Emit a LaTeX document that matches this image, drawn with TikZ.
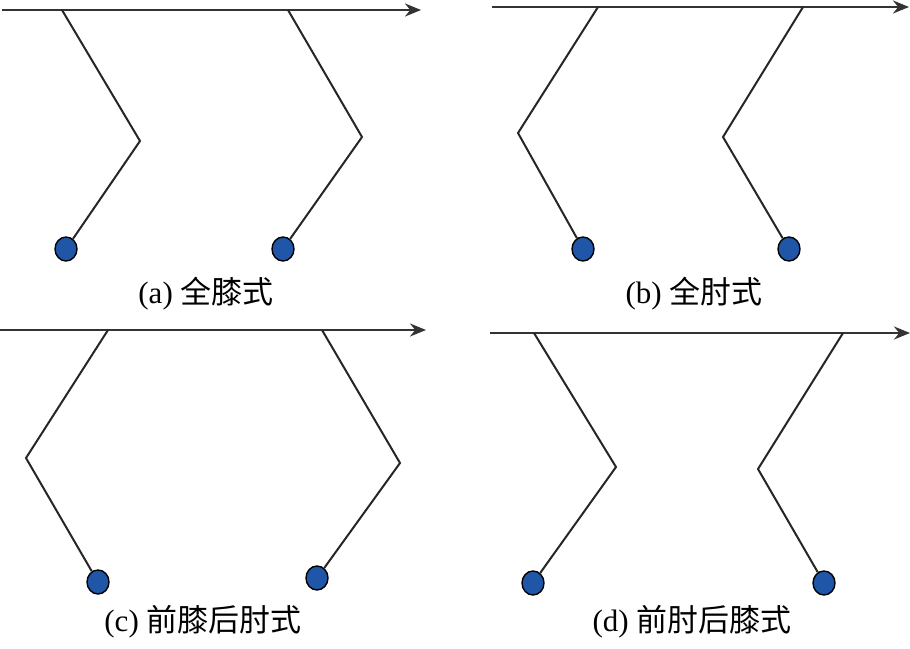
\documentclass[tikz,border=0pt]{standalone}
\usepackage{fontspec}
\setmainfont{Liberation Serif}
\newfontfamily\cjk{Noto Sans CJK SC}
\usetikzlibrary{shapes.geometric,arrows.meta}
\definecolor{footblue}{RGB}{31,86,168}

\tikzset{
  leg/.style={black!85,line width=2pt,line join=miter},
  axis/.style={black!80,line width=2.4pt,-{Stealth[length=16pt,width=13pt]}},
  foot/.style={ellipse,draw=black,line width=1.4pt,fill=footblue,
               minimum width=22pt,minimum height=24pt,inner sep=0pt},
  caption/.style={font=\fontsize{31}{34}\selectfont}
}

\begin{document}
\begin{tikzpicture}[x=1pt,y=-1pt]
  \useasboundingbox (0,0) rectangle (910,648);

  % (a) 全膝式
  \coordinate (a0) at (2,10); \coordinate (a1) at (421,10);
  \draw[axis] (a0) -- (a1);
  \coordinate (ah1) at (62,10);  \coordinate (ak1) at (140,141);
  \coordinate (ah2) at (288,10); \coordinate (ak2) at (362,137);
  \node[foot] (af1) at (66,249) {};
  \node[foot] (af2) at (283,249) {};
  \draw[leg] (ah1) -- (ak1) -- (af1);
  \draw[leg] (ah2) -- (ak2) -- (af2);
  \node[caption] (la) at (206,294) {(a) {\cjk 全膝式}};

  % (b) 全肘式
  \coordinate (b0) at (492,7); \coordinate (b1) at (909,7);
  \draw[axis] (b0) -- (b1);
  \coordinate (bh1) at (598,7); \coordinate (bk1) at (518,133);
  \coordinate (bh2) at (803,7); \coordinate (bk2) at (723,137);
  \node[foot] (bf1) at (583,249) {};
  \node[foot] (bf2) at (789,249) {};
  \draw[leg] (bh1) -- (bk1) -- (bf1);
  \draw[leg] (bh2) -- (bk2) -- (bf2);
  \node[caption] (lb) at (694,294) {(b) {\cjk 全肘式}};

  % (c) 前膝后肘式
  \coordinate (c0) at (0,330); \coordinate (c1) at (426,330);
  \draw[axis] (c0) -- (c1);
  \coordinate (ch1) at (108,330); \coordinate (ck1) at (26,458);
  \coordinate (ch2) at (322,330); \coordinate (ck2) at (400,463);
  \node[foot] (cf1) at (98,582) {};
  \node[foot] (cf2) at (317,578) {};
  \draw[leg] (ch1) -- (ck1) -- (cf1);
  \draw[leg] (ch2) -- (ck2) -- (cf2);
  \node[caption] (lc) at (203,622) {(c) {\cjk 前膝后肘式}};

  % (d) 前肘后膝式
  \coordinate (d0) at (490,333); \coordinate (d1) at (910,333);
  \draw[axis] (d0) -- (d1);
  \coordinate (dh1) at (534,333); \coordinate (dk1) at (616,467);
  \coordinate (dh2) at (843,333); \coordinate (dk2) at (758,469);
  \node[foot] (df1) at (533,583) {};
  \node[foot] (df2) at (824,583) {};
  \draw[leg] (dh1) -- (dk1) -- (df1);
  \draw[leg] (dh2) -- (dk2) -- (df2);
  \node[caption] (ld) at (692,622) {(d) {\cjk 前肘后膝式}};
\end{tikzpicture}
\end{document}
